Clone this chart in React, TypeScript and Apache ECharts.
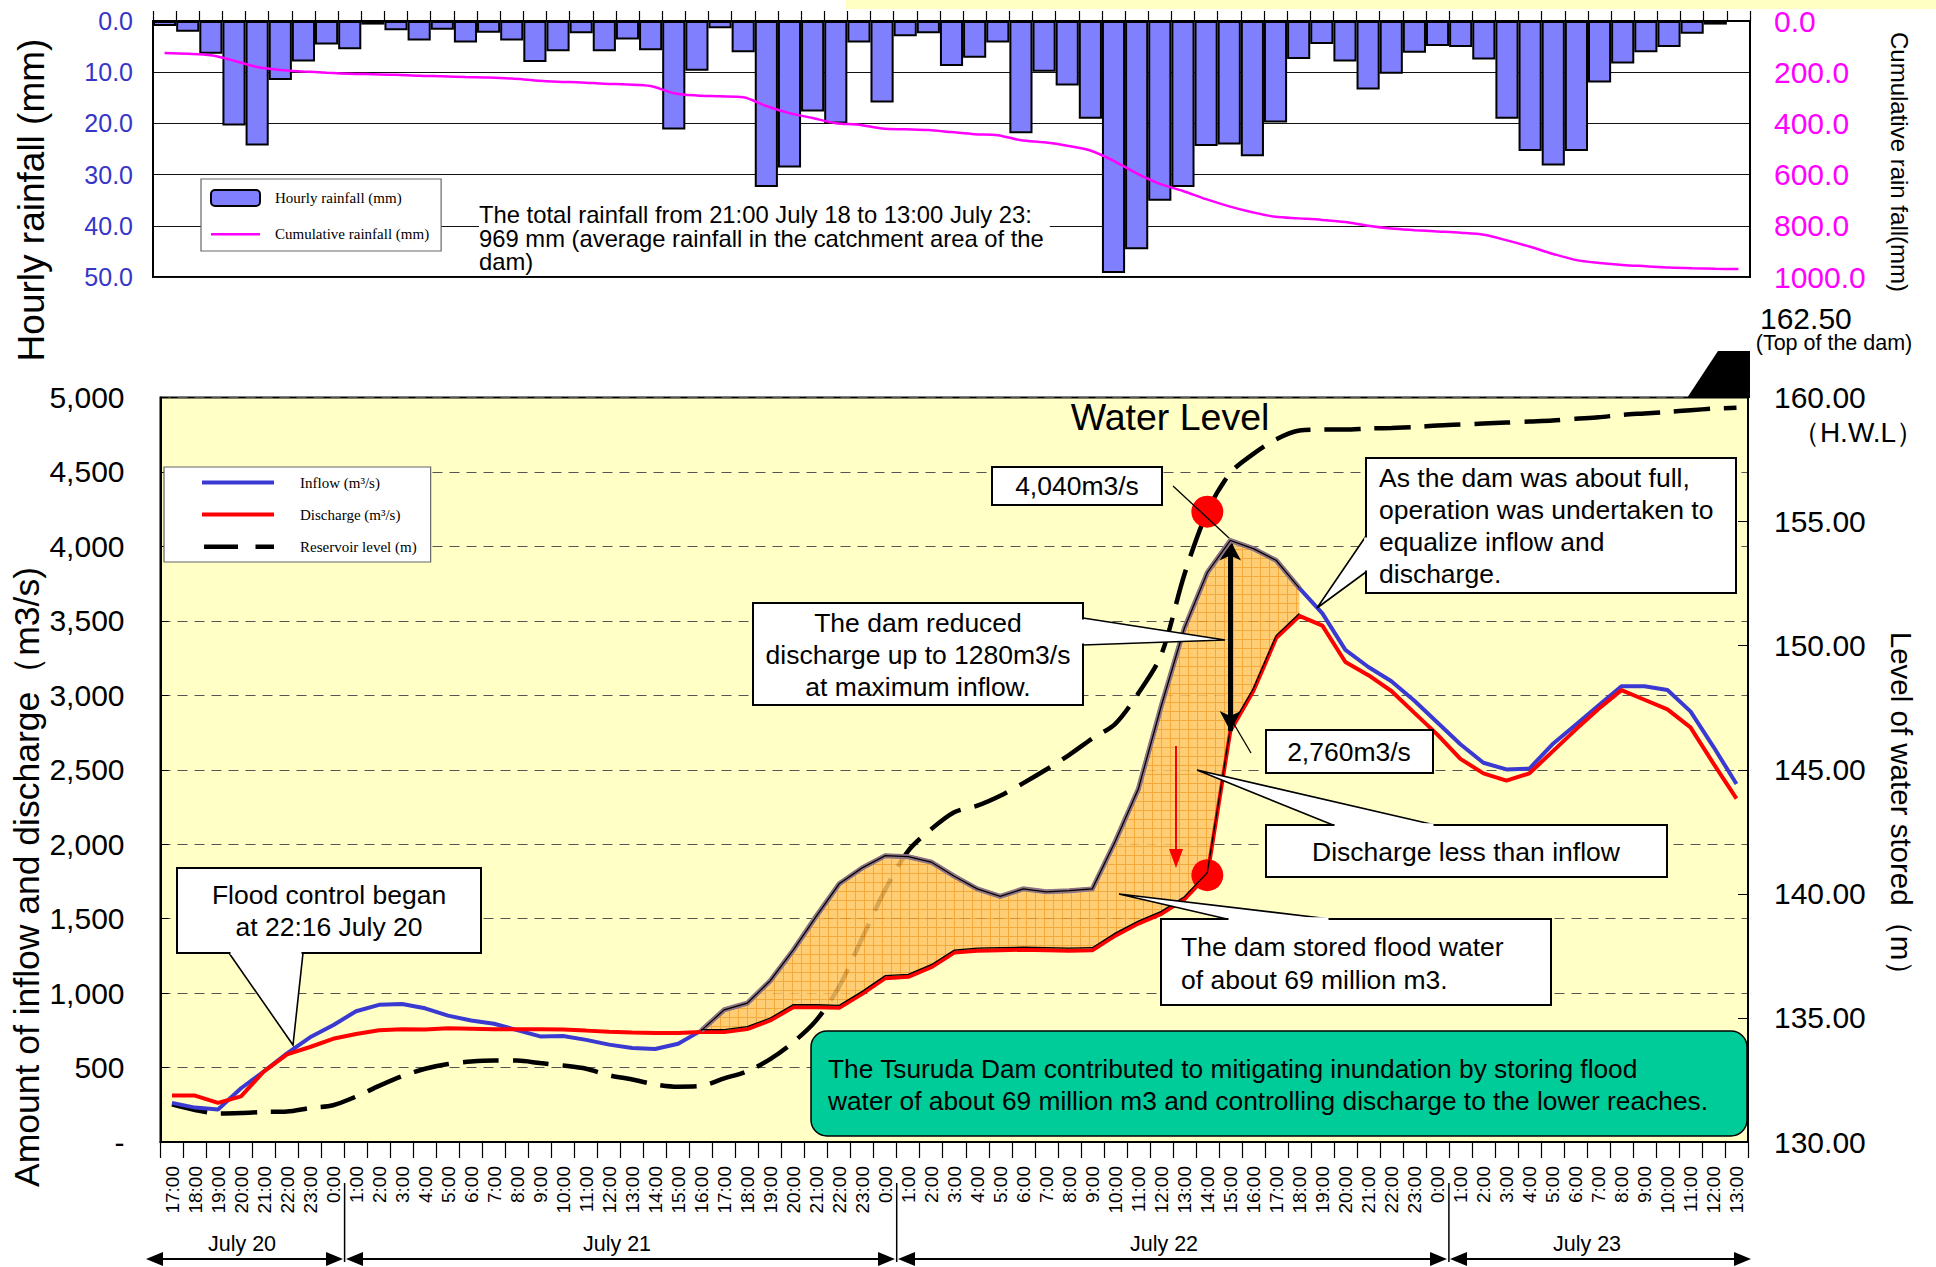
import React, { useEffect, useRef } from 'react';
import * as echarts from 'echarts';

// ---------- data ----------
const hours = [
  '17:00','18:00','19:00','20:00','21:00','22:00','23:00',
  '0:00','1:00','2:00','3:00','4:00','5:00','6:00','7:00','8:00','9:00','10:00','11:00','12:00',
  '13:00','14:00','15:00','16:00','17:00','18:00','19:00','20:00','21:00','22:00','23:00',
  '0:00','1:00','2:00','3:00','4:00','5:00','6:00','7:00','8:00','9:00','10:00','11:00','12:00',
  '13:00','14:00','15:00','16:00','17:00','18:00','19:00','20:00','21:00','22:00','23:00',
  '0:00','1:00','2:00','3:00','4:00','5:00','6:00','7:00','8:00','9:00','10:00','11:00','12:00','13:00',
];

const hourlyRain = [
  1.0, 2.1, 6.4, 20.4, 24.3, 11.5, 7.9, 4.6, 5.5, 0.7,
  1.8, 3.8, 1.7, 4.2, 2.3, 3.8, 8.0, 5.9, 2.4, 5.9,
  3.6, 5.7, 21.2, 9.7, 1.4, 6.1, 32.4, 28.6, 17.7, 20.0,
  4.2, 15.9, 3.0, 2.4, 8.8, 7.2, 4.2, 21.9, 9.9, 12.6,
  19.1, 49.2, 44.6, 35.1, 32.4, 24.4, 24.1, 26.4, 19.8, 7.4,
  4.5, 7.9, 13.4, 10.3, 6.2, 4.9, 5.1, 7.5, 19.1, 25.4,
  28.2, 25.4, 12.0, 8.3, 6.1, 5.1, 2.5, 0.7, 0,
];

const cumulativeRain = [
  125, 128, 134, 155, 180, 191, 197, 202, 206, 208,
  210, 214, 216, 219, 221, 225, 232, 237, 240, 245,
  248, 254, 282, 291, 294, 298, 332, 360, 379, 399,
  405, 420, 423, 426, 434, 442, 446, 466, 474, 487,
  506, 546, 595, 636, 664, 696, 724, 747, 765, 771,
  777, 785, 800, 811, 817, 822, 827, 835, 857, 882,
  910, 934, 945, 953, 958, 963, 966, 968, 969,
];

const inflow = [
  263, 231, 218, 361, 475, 595, 703, 784, 878, 921,
  927, 898, 849, 816, 794, 751, 709, 712, 686, 654,
  631, 625, 660, 748, 888, 932, 1083, 1288, 1516, 1734,
  1841, 1923, 1916, 1880, 1785, 1700, 1650, 1700, 1680, 1688,
  1700, 2020, 2370, 2930, 3450, 3825, 4040, 3985, 3905, 3720,
  3550, 3305, 3190, 3094, 2963, 2817, 2671, 2547, 2502, 2508,
  2671, 2801, 2931, 3061, 3061, 3035, 2892, 2654, 2404,
];

const discharge = [
  312, 312, 263, 306, 475, 589, 638, 693, 725, 751,
  758, 755, 764, 761, 758, 758, 758, 755, 748, 740,
  735, 732, 732, 738, 738, 758, 816, 905, 905, 901,
  995, 1100, 1109, 1174, 1272, 1285, 1288, 1291, 1288, 1285,
  1288, 1386, 1467, 1532, 1630, 1792, 2760, 3029, 3386, 3533,
  3468, 3224, 3135, 3029, 2882, 2736, 2573, 2476, 2427, 2476,
  2622, 2768, 2908, 3035, 2970, 2905, 2785, 2541, 2306,
];

const reservoirLevel = [
  131.52, 131.29, 131.15, 131.17, 131.21, 131.23, 131.37, 131.48, 131.83, 132.26,
  132.65, 132.95, 133.14, 133.24, 133.28, 133.28, 133.18, 133.08, 132.95, 132.69,
  132.52, 132.32, 132.23, 132.26, 132.56, 132.85, 133.34, 134.02, 134.9, 136.27,
  138.22, 140.17, 141.73, 142.61, 143.29, 143.55, 143.95, 144.46, 145.01, 145.6,
  146.26, 146.85, 148.08, 149.64, 152.86, 155.4, 156.96, 157.73, 158.32, 158.67,
  158.71, 158.71, 158.75, 158.77, 158.81, 158.87, 158.91, 158.95, 158.99, 159.03,
  159.07, 159.14, 159.2, 159.3, 159.36, 159.42, 159.49, 159.55, 159.59,
];

const dayLabels = ['July 20', 'July 21', 'July 22', 'July 23'];

const AREA_START = 23;
const AREA_END = 49;
const PEAK_IDX = 46;
const DOT_IDX = 45;

const SANS = "'Liberation Sans', Arial, sans-serif";
const SERIF = "'Liberation Serif', 'Times New Roman', serif";

const tileSvg =
  "<svg xmlns='http://www.w3.org/2000/svg' width='9' height='9'>" +
  "<rect width='9' height='9' fill='#FFC566'/>" +
  "<path d='M0 0.5H9M0.5 0V9' stroke='#F29A22' stroke-width='1'/></svg>";
const tileUrl = 'data:image/svg+xml;charset=utf-8,' + encodeURIComponent(tileSvg);

// legend icons (tiny corner slivers keep the bounding box equal to the icon size)
const ICON_TOP_LINE = 'path://M0,0L0.2,0L0.2,0.2Z M0,7h49v2.6h-49z M0,16L0.2,16L0.2,15.8Z';
const ICON_SOLID = 'path://M0,0L0.2,0L0.2,0.2Z M0,5h72v4h-72z M0,14L0.2,14L0.2,13.8Z';
const ICON_DASH = 'path://M0,0L0.2,0L0.2,0.2Z M2,5h33v4.5h-33z M52,5h18v4.5h-18z M0,14L0.2,14L0.2,13.8Z';

// ---------- helpers for decorations ----------
type Pt = [number, number];

function txt(text: string, x: number, y: number, o: any = {}) {
  return {
    type: 'text',
    x,
    y,
    z: 60,
    rotation: o.rotation || 0,
    style: {
      text,
      fill: o.fill || '#000',
      fontSize: o.fontSize || 26.5,
      fontFamily: o.fontFamily || SANS,
      align: o.align || 'center',
      verticalAlign: o.verticalAlign || 'middle',
      lineHeight: o.lineHeight,
      backgroundColor: o.backgroundColor,
      padding: o.padding,
    },
  };
}

function box(x: number, y: number, w: number, h: number, z = 55) {
  return {
    type: 'rect',
    z,
    shape: { x, y, width: w, height: h },
    style: { fill: '#fff', stroke: '#000', lineWidth: 2 },
  };
}

function wedge(b1: Pt, tip: Pt, b2: Pt) {
  const els: any[] = [];
  els.push({
    type: 'polygon',
    z: 54,
    shape: { points: [b1, tip, b2] },
    style: { fill: '#fff', stroke: '#000', lineWidth: 1.6 },
  });
  const horiz = b1[1] === b2[1];
  const a: Pt = horiz ? [Math.min(b1[0], b2[0]) + 1.5, b1[1]] : [b1[0], Math.min(b1[1], b2[1]) + 1.5];
  const c: Pt = horiz ? [Math.max(b1[0], b2[0]) - 1.5, b1[1]] : [b1[0], Math.max(b1[1], b2[1]) - 1.5];
  els.push({
    type: 'line',
    z: 56,
    shape: { x1: a[0], y1: a[1], x2: c[0], y2: c[1] },
    style: { stroke: '#fff', lineWidth: 3.5 },
  });
  return els;
}

function thinLine(x1: number, y1: number, x2: number, y2: number, color = '#000', w = 1.3, z = 58) {
  return { type: 'line', z, shape: { x1, y1, x2, y2 }, style: { stroke: color, lineWidth: w } };
}

function dayArrow(x0: number, x1: number, y: number) {
  return [
    thinLine(x0 + 10, y, x1 - 10, y, '#000', 2.2),
    { type: 'polygon', z: 58, shape: { points: [[x0, y], [x0 + 17, y - 7], [x0 + 17, y + 7]] }, style: { fill: '#000' } },
    { type: 'polygon', z: 58, shape: { points: [[x1, y], [x1 - 17, y - 7], [x1 - 17, y + 7]] }, style: { fill: '#000' } },
  ];
}

// ---------- component ----------
export default function App() {
  const ref = useRef<HTMLDivElement>(null);

  useEffect(() => {
    document.body.style.margin = '0';
    const chart = echarts.init(ref.current!, null, { renderer: 'svg' });

    const graphics: any[] = [
      { type: 'rect', z: 0, shape: { x: 846, y: 0, width: 1090, height: 9 }, style: { fill: '#FFFFC4' } },
      // axis names
      txt('Hourly rainfall (mm)', 31, 200, { fontSize: 37, rotation: Math.PI / 2 }),
      txt('Cumulative rain fall(mm)', 1899, 162, { fontSize: 24, rotation: -Math.PI / 2 }),
      txt('Amount of inflow and discharge（m3/s)', 27, 877, { fontSize: 35.5, rotation: Math.PI / 2 }),
      txt('Level of water stored（m）', 1901, 811, { fontSize: 29.5, rotation: -Math.PI / 2 }),
      // top chart note
      txt(
        'The total rainfall from 21:00 July 18 to 13:00 July 23:\n969 mm (average rainfall in the catchment area of the\ndam)',
        479, 238, { fontSize: 23.8, align: 'left', lineHeight: 23.5, backgroundColor: '#fff', padding: [0, 6, 0, 0] }
      ),
      // dam top
      txt('162.50', 1760, 318, { fontSize: 30, align: 'left' }),
      txt('(Top of the dam)', 1834, 343, { fontSize: 21.5 }),
      txt('（H.W.L）', 1858, 432, { fontSize: 28 }),
      {
        type: 'polygon', z: 40,
        shape: { points: [[1687, 398], [1718, 351], [1750, 351], [1750, 398]] },
        style: { fill: '#000' },
      },
      txt('Water Level', 1170, 417, { fontSize: 37.5 }),
      // Flood control callout
      box(177, 868, 304, 85),
      ...wedge([229, 953], [293, 1045], [303, 953]),
      txt('Flood control began\nat 22:16 July 20', 329, 911, { lineHeight: 32 }),
      // dam reduced callout
      box(753, 603, 330, 102),
      ...wedge([1083, 618], [1225, 640], [1083, 645]),
      txt('The dam reduced\ndischarge up to 1280m3/s\nat maximum inflow.', 918, 655, { lineHeight: 32 }),
      // 4,040
      box(992, 467, 170, 38),
      txt('4,040m3/s', 1077, 486),
      thinLine(1173, 486, 1229, 538),
      // As the dam was about full
      box(1366, 458, 370, 135),
      ...wedge([1366, 536], [1317, 608], [1366, 572]),
      txt('As the dam was about full,\noperation was undertaken to\nequalize inflow and\ndischarge.', 1379, 526, {
        lineHeight: 32, align: 'left',
      }),
      // 2,760
      box(1266, 730, 167, 43),
      txt('2,760m3/s', 1349, 752),
      thinLine(1231, 719, 1251, 753),
      // Discharge less than inflow
      box(1266, 825, 401, 52),
      ...wedge([1333, 825], [1197, 770], [1435, 825]),
      txt('Discharge less than inflow', 1466, 852),
      // The dam stored
      box(1161, 919, 390, 86),
      ...wedge([1227, 919], [1119, 894], [1330, 919]),
      txt('The dam stored flood water\nof about 69 million m3.', 1181, 963, { lineHeight: 33, align: 'left' }),
      // Green summary box
      {
        type: 'rect', z: 55,
        shape: { x: 811, y: 1031, width: 936, height: 105, r: 16 },
        style: { fill: '#00CC99', stroke: '#000', lineWidth: 1.5 },
      },
      txt(
        'The Tsuruda Dam contributed to mitigating inundation by storing flood\nwater of about 69 million m3 and controlling discharge to the lower reaches.',
        828, 1085, { fontSize: 26.3, lineHeight: 32, align: 'left' }
      ),
      // red arrow
      thinLine(1176, 746, 1176, 852, '#FF0000', 2),
      { type: 'polygon', z: 58, shape: { points: [[1169, 849], [1183, 849], [1176, 868]] }, style: { fill: '#FF0000' } },
      // day boundaries
      thinLine(344.6, 1183, 344.6, 1262, '#000', 1.5),
      thinLine(896.7, 1183, 896.7, 1262, '#000', 1.5),
      thinLine(1448.9, 1183, 1448.9, 1262, '#000', 1.5),
      ...dayArrow(146, 343, 1259),
      ...dayArrow(346, 895, 1259),
      ...dayArrow(898, 1447, 1259),
      ...dayArrow(1450, 1751, 1259),
      txt(dayLabels[0], 242, 1244, { fontSize: 21.5 }),
      txt(dayLabels[1], 617, 1244, { fontSize: 21.5 }),
      txt(dayLabels[2], 1164, 1244, { fontSize: 21.5 }),
      txt(dayLabels[3], 1587, 1244, { fontSize: 21.5 }),
    ];

    const option: any = {
      animation: false,
      backgroundColor: '#fff',
      textStyle: { fontFamily: SANS },
      grid: [
        { left: 153, top: 21, width: 1597, height: 256, show: true, backgroundColor: '#fff', borderColor: '#000', borderWidth: 2 },
        { left: 160.5, top: 397.5, width: 1587.5, height: 744.5, show: true, backgroundColor: '#FFFFC6', borderColor: '#000', borderWidth: 2 },
      ],
      legend: [
        {
          data: [
            { name: 'Hourly rainfall (mm)' },
            { name: 'Cumulative rainfall (mm)', icon: ICON_TOP_LINE },
          ],
          orient: 'vertical',
          left: 201,
          top: 179,
          itemWidth: 49,
          itemHeight: 16,
          itemGap: 19,
          symbolKeepAspect: false,
          padding: [10, 12, 9, 9],
          backgroundColor: '#fff',
          borderColor: '#666',
          borderWidth: 1.2,
          textStyle: { fontFamily: SERIF, fontSize: 15, color: '#000', padding: [0, 0, 0, 10] },
          z: 50,
        },
        {
          data: [
            { name: 'Inflow (m³/s)', icon: ICON_SOLID },
            { name: 'Discharge (m³/s)', icon: ICON_SOLID },
            { name: 'Reservoir level (m)', icon: ICON_DASH },
          ],
          orient: 'vertical',
          left: 164,
          top: 467,
          itemWidth: 72,
          itemHeight: 14,
          itemGap: 17,
          symbolKeepAspect: false,
          padding: [8, 14, 8, 38],
          backgroundColor: '#fff',
          borderColor: '#666',
          borderWidth: 1.2,
          textStyle: { fontFamily: SERIF, fontSize: 15, color: '#000', padding: [0, 0, 0, 21] },
          z: 50,
        },
      ],
      xAxis: [
        {
          type: 'category', gridIndex: 0, data: hours, position: 'top',
          axisLine: { lineStyle: { color: '#000', width: 2 } },
          axisTick: { show: true, interval: 0, length: 10, lineStyle: { color: '#000', width: 1.2 } },
          axisLabel: { show: false },
          splitLine: { show: false },
        },
        {
          type: 'category', gridIndex: 1, data: hours,
          axisLine: { lineStyle: { color: '#000', width: 2 } },
          axisTick: { show: true, interval: 0, length: 16, lineStyle: { color: '#000', width: 1.2 } },
          axisLabel: { interval: 0, rotate: 90, fontSize: 19, color: '#000', margin: 24, fontFamily: SANS },
          splitLine: { show: false },
        },
      ],
      yAxis: [
        {
          type: 'value', gridIndex: 0, min: 0, max: 50, interval: 10, inverse: true,
          axisLine: { show: true, lineStyle: { color: '#000', width: 2 } },
          axisTick: { show: false },
          axisLabel: { color: '#3535C8', fontSize: 25, margin: 20, formatter: (v: number) => v.toFixed(1) },
          splitLine: { show: true, lineStyle: { color: '#111', width: 1 } },
        },
        {
          type: 'value', gridIndex: 0, min: 0, max: 1000, interval: 200, inverse: true, position: 'right',
          axisLine: { show: true, lineStyle: { color: '#000', width: 2 } },
          axisTick: { show: false },
          axisLabel: { color: '#FF00FF', fontSize: 30, margin: 24, formatter: (v: number) => v.toFixed(1) },
          splitLine: { show: false },
        },
        {
          type: 'value', gridIndex: 1, min: 0, max: 5000, interval: 500,
          axisLine: { show: true, lineStyle: { color: '#000', width: 2 } },
          axisTick: { show: true, inside: true, length: 8, lineStyle: { color: '#000' } },
          axisLabel: {
            color: '#000', fontSize: 30, margin: 36,
            formatter: (v: number) => (v === 0 ? '-' : v.toLocaleString('en-US')),
          },
          splitLine: { show: true, lineStyle: { color: '#555', width: 1.2, type: [10, 7] } },
        },
        {
          type: 'value', gridIndex: 1, min: 130, max: 160, interval: 5, position: 'right',
          axisLine: { show: true, lineStyle: { color: '#000', width: 2 } },
          axisTick: { show: true, inside: true, length: 10, lineStyle: { color: '#000' } },
          axisLabel: { color: '#000', fontSize: 30, margin: 26, formatter: (v: number) => v.toFixed(2) },
          splitLine: { show: false },
        },
      ],
      series: [
        {
          name: 'Hourly rainfall (mm)', type: 'bar', xAxisIndex: 0, yAxisIndex: 0,
          data: hourlyRain, barWidth: '100%', barCategoryGap: 0,
          itemStyle: { color: '#8080FF', borderColor: '#000', borderWidth: 2 },
          z: 2,
        },
        {
          name: 'Cumulative rainfall (mm)', type: 'line', xAxisIndex: 0, yAxisIndex: 1,
          data: cumulativeRain, symbol: 'none', smooth: 0.3,
          lineStyle: { color: '#FF00FF', width: 2.5 }, itemStyle: { color: '#FF00FF' },
          z: 3,
        },
        {
          name: 'Reservoir level (m)', type: 'line', xAxisIndex: 1, yAxisIndex: 3,
          data: reservoirLevel, symbol: 'none', smooth: 0.3,
          lineStyle: { color: '#000', width: 4.5, type: [36, 14] }, itemStyle: { color: '#000' },
          z: 2,
          markPoint: {
            symbol: 'circle', symbolSize: 32, label: { show: false },
            itemStyle: { color: '#FF0000' },
            data: [{ coord: [DOT_IDX, reservoirLevel[DOT_IDX]] }],
          },
        },
        {
          type: 'custom', name: 'storedArea', xAxisIndex: 1, yAxisIndex: 2, z: 3,
          data: [0], silent: true,
          renderItem: (params: any, api: any) => {
            const pts: number[][] = [];
            for (let k = AREA_START; k <= AREA_END; k++) pts.push(api.coord([k, inflow[k]]));
            for (let k = AREA_END; k >= AREA_START; k--) pts.push(api.coord([k, discharge[k]]));
            return {
              type: 'polygon',
              shape: { points: pts },
              style: { fill: { image: tileUrl, repeat: 'repeat', imageWidth: 9, imageHeight: 9 }, opacity: 0.85 },
            };
          },
        },
        {
          name: 'Inflow (m³/s)', type: 'line', xAxisIndex: 1, yAxisIndex: 2,
          data: inflow, symbol: 'none',
          lineStyle: { color: '#3A3AD2', width: 4 }, itemStyle: { color: '#3A3AD2' },
          z: 4,
        },
        {
          name: 'Discharge (m³/s)', type: 'line', xAxisIndex: 1, yAxisIndex: 2,
          data: discharge, symbol: 'none',
          lineStyle: { color: '#FF0000', width: 4 }, itemStyle: { color: '#FF0000' },
          z: 4,
          markPoint: {
            symbol: 'circle', symbolSize: 32, label: { show: false },
            itemStyle: { color: '#FF0000' },
            data: [{ coord: [DOT_IDX, discharge[DOT_IDX]] }],
          },
          markLine: {
            silent: true,
            symbol: ['arrow', 'arrow'],
            symbolSize: [16, 20],
            label: { show: false },
            lineStyle: { color: '#000', width: 5, type: 'solid' },
            data: [[{ coord: [PEAK_IDX, inflow[PEAK_IDX]] }, { coord: [PEAK_IDX, discharge[PEAK_IDX]] }]],
          },
        },
        {
          type: 'custom', name: 'areaOutline', xAxisIndex: 1, yAxisIndex: 2, z: 5,
          data: [0], silent: true,
          renderItem: (params: any, api: any) => {
            const top: number[][] = [];
            const bottom: number[][] = [];
            for (let k = AREA_START; k <= AREA_END; k++) {
              top.push(api.coord([k, inflow[k]]));
              const p = api.coord([k, discharge[k]]);
              bottom.push([p[0], p[1] - 2.5]);
            }
            return {
              type: 'group',
              children: [
                { type: 'polyline', shape: { points: top }, style: { stroke: '#8E7484', lineWidth: 5, fill: 'none' } },
                { type: 'polyline', shape: { points: top }, style: { stroke: '#000', lineWidth: 1.3, fill: 'none' } },
                { type: 'polyline', shape: { points: bottom }, style: { stroke: '#000', lineWidth: 1.3, fill: 'none' } },
              ],
            };
          },
        },
      ],
      graphic: { elements: graphics },
    };

    chart.setOption(option);
    return () => chart.dispose();
  }, []);

  return <div ref={ref} style={{ width: 1936, height: 1267 }} />;
}
